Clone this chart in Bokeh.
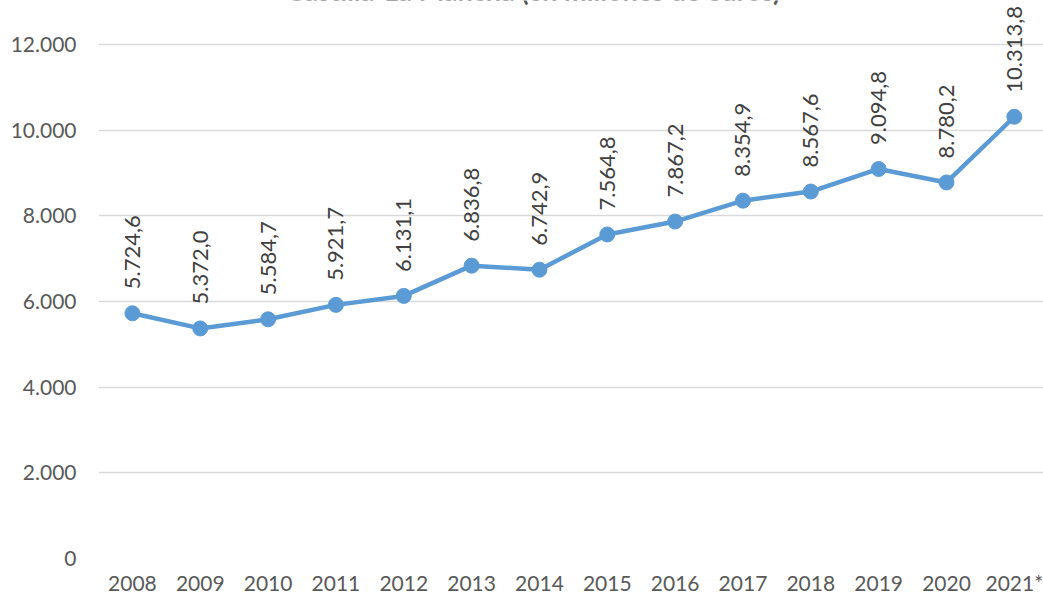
import math
from bokeh.plotting import figure
from bokeh.models import Range1d, FixedTicker
from bokeh.core.properties import value
from bokeh.embed import file_html
from bokeh.resources import INLINE

years = ["2008", "2009", "2010", "2011", "2012", "2013", "2014",
         "2015", "2016", "2017", "2018", "2019", "2020", "2021*"]
values = [5724.6, 5372.0, 5584.7, 5921.7, 6131.1, 6836.8, 6742.9,
          7564.8, 7867.2, 8354.9, 8567.6, 9094.8, 8780.2, 10313.8]
y_ticks = [0, 2000, 4000, 6000, 8000, 10000, 12000]
y_tick_labels = ["0", "2.000", "4.000", "6.000", "8.000", "10.000", "12.000"]
title_text = "Castilla-La Mancha (en millones de euros)"


def es_fmt(v):
    s = f"{v:,.1f}"
    return s.replace(",", "X").replace(".", ",").replace("X", ".")


labels = [es_fmt(v) for v in values]
xs = list(range(len(years)))

FONT = "Lato"

p = figure(width=1043, height=598, output_backend="svg", toolbar_location=None,
           x_range=Range1d(-0.5, 13.43), y_range=Range1d(0, 13028),
           min_border_left=98, min_border_right=0, min_border_top=0,
           min_border_bottom=40)
p.outline_line_color = None
p.background_fill_color = "white"
p.border_fill_color = "white"

# grid
p.xgrid.grid_line_color = None
p.ygrid.grid_line_color = "#D9D9D9"
p.ygrid.grid_line_width = 1.3

# y axis
p.yaxis.ticker = FixedTicker(ticks=y_ticks)
p.yaxis.major_label_overrides = {t: l for t, l in zip(y_ticks, y_tick_labels)}
p.yaxis.axis_line_color = None
p.yaxis.major_tick_line_color = None
p.yaxis.minor_tick_line_color = None
p.yaxis.major_tick_out = 0
p.yaxis.major_label_standoff = 22
p.yaxis.major_label_text_font = FONT
p.yaxis.major_label_text_font_size = "21px"
p.yaxis.major_label_text_color = "#595959"

# x axis
p.xaxis.ticker = FixedTicker(ticks=xs)
p.xaxis.major_label_overrides = {x: y for x, y in zip(xs, years)}
p.xaxis.axis_line_color = None
p.xaxis.major_tick_line_color = None
p.xaxis.minor_tick_line_color = None
p.xaxis.major_tick_out = 0
p.xaxis.major_label_standoff = 11
p.xaxis.major_label_text_font = FONT
p.xaxis.major_label_text_font_size = "21px"
p.xaxis.major_label_text_color = "#595959"

# line + markers
p.line(xs, values, line_color="#5B9BD5", line_width=4.5, line_join="round")
p.scatter(xs, values, size=15, fill_color="#5B9BD5", line_color="#5B9BD5")

# data labels
p.text(xs, values, text=labels, angle=math.pi / 2, y_offset=-24,
       text_align="left", text_baseline="middle",
       text_font=value(FONT), text_font_size="22px", text_color="#404040")

# partially visible title (cut at the top, as in the reference)
p.text([5.91], [12865], text=[title_text], text_align="center",
       text_baseline="bottom", text_font=value(FONT), text_font_size="27px",
       text_font_style="bold", text_color="#595959")

open("out.html", "w").write(file_html(p, INLINE))
